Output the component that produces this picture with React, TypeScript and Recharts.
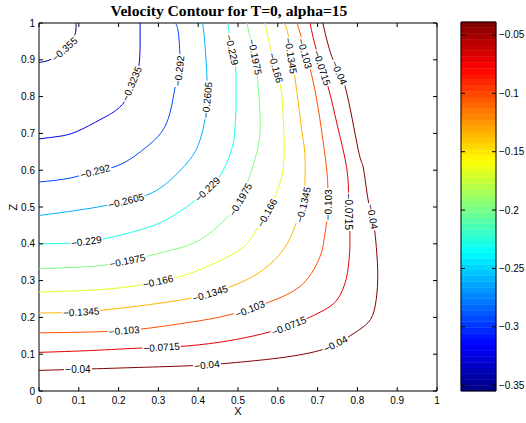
import React from 'react';
import { ComposedChart, Line, Scatter, XAxis, YAxis, ReferenceArea } from 'recharts';

// contour levels, lowest first
const levels = [-0.355, -0.3235, -0.292, -0.2605, -0.229, -0.1975, -0.166, -0.1345, -0.103, -0.0715, -0.04];
const colorMin = -0.355;
const colorMax = -0.0389;

const axisTicks = [0, 0.1, 0.2, 0.3, 0.4, 0.5, 0.6, 0.7, 0.8, 0.9, 1];
const barTicks = [-0.35, -0.3, -0.25, -0.2, -0.15, -0.1, -0.05];

// contour paths, traced from the top edge down to the left edge
const c355 = [
  { x: 0.093, z: 1.0 }, { x: 0.092, z: 0.975 }, { x: 0.082, z: 0.952 }, { x: 0.063, z: 0.929 },
  { x: 0.042, z: 0.909 }, { x: 0.02, z: 0.897 }, { x: 0, z: 0.893 },
];
const c3235 = [
  { x: 0.254, z: 1.0 }, { x: 0.254, z: 0.941 }, { x: 0.252, z: 0.892 }, { x: 0.245, z: 0.858 },
  { x: 0.231, z: 0.817 }, { x: 0.209, z: 0.778 }, { x: 0.183, z: 0.755 }, { x: 0.153, z: 0.737 },
  { x: 0.095, z: 0.705 }, { x: 0.05, z: 0.692 }, { x: 0, z: 0.685 },
];
const c292 = [
  { x: 0.343, z: 1.0 }, { x: 0.35, z: 0.975 }, { x: 0.354, z: 0.914 }, { x: 0.352, z: 0.868 },
  { x: 0.342, z: 0.826 }, { x: 0.321, z: 0.729 }, { x: 0.271, z: 0.664 }, { x: 0.204, z: 0.615 },
  { x: 0.141, z: 0.597 }, { x: 0.08, z: 0.579 }, { x: 0, z: 0.568 },
];
const c2605 = [
  { x: 0.411, z: 1.0 }, { x: 0.417, z: 0.941 }, { x: 0.422, z: 0.851 }, { x: 0.422, z: 0.791 },
  { x: 0.417, z: 0.737 }, { x: 0.405, z: 0.683 }, { x: 0.379, z: 0.629 }, { x: 0.321, z: 0.565 },
  { x: 0.262, z: 0.529 }, { x: 0.178, z: 0.506 }, { x: 0.09, z: 0.49 }, { x: 0, z: 0.477 },
];
const c229 = [
  { x: 0.474, z: 1.0 }, { x: 0.478, z: 0.973 }, { x: 0.485, z: 0.927 }, { x: 0.494, z: 0.881 },
  { x: 0.495, z: 0.82 }, { x: 0.495, z: 0.764 }, { x: 0.492, z: 0.71 }, { x: 0.486, z: 0.664 },
  { x: 0.459, z: 0.592 }, { x: 0.423, z: 0.548 }, { x: 0.384, z: 0.511 }, { x: 0.321, z: 0.466 },
  { x: 0.254, z: 0.438 }, { x: 0.162, z: 0.413 }, { x: 0.08, z: 0.402 }, { x: 0, z: 0.4 },
];
const c1975 = [
  { x: 0.523, z: 1.0 }, { x: 0.53, z: 0.963 }, { x: 0.543, z: 0.908 }, { x: 0.549, z: 0.851 },
  { x: 0.555, z: 0.764 }, { x: 0.555, z: 0.701 }, { x: 0.549, z: 0.656 }, { x: 0.532, z: 0.593 },
  { x: 0.506, z: 0.52 }, { x: 0.467, z: 0.465 }, { x: 0.405, z: 0.411 }, { x: 0.337, z: 0.384 },
  { x: 0.271, z: 0.366 }, { x: 0.178, z: 0.344 }, { x: 0.09, z: 0.336 }, { x: 0, z: 0.332 },
];
const c166 = [
  { x: 0.568, z: 1.0 }, { x: 0.585, z: 0.918 }, { x: 0.606, z: 0.832 }, { x: 0.614, z: 0.737 },
  { x: 0.616, z: 0.646 }, { x: 0.61, z: 0.583 }, { x: 0.593, z: 0.529 }, { x: 0.573, z: 0.484 },
  { x: 0.547, z: 0.44 }, { x: 0.505, z: 0.384 }, { x: 0.413, z: 0.334 }, { x: 0.354, z: 0.311 },
  { x: 0.262, z: 0.289 }, { x: 0.145, z: 0.275 }, { x: 0, z: 0.269 },
];
const c1345 = [
  { x: 0.613, z: 1.0 }, { x: 0.626, z: 0.968 }, { x: 0.643, z: 0.851 }, { x: 0.652, z: 0.78 },
  { x: 0.661, z: 0.702 }, { x: 0.668, z: 0.645 }, { x: 0.668, z: 0.565 }, { x: 0.661, z: 0.506 },
  { x: 0.643, z: 0.447 }, { x: 0.614, z: 0.384 }, { x: 0.564, z: 0.33 }, { x: 0.505, z: 0.294 },
  { x: 0.43, z: 0.265 }, { x: 0.35, z: 0.246 }, { x: 0.25, z: 0.231 }, { x: 0.153, z: 0.219 },
  { x: 0.06, z: 0.213 }, { x: 0, z: 0.212 },
];
const c103 = [
  { x: 0.648, z: 1.0 }, { x: 0.656, z: 0.973 }, { x: 0.685, z: 0.859 }, { x: 0.706, z: 0.737 },
  { x: 0.722, z: 0.61 }, { x: 0.726, z: 0.545 }, { x: 0.725, z: 0.48 }, { x: 0.716, z: 0.41 },
  { x: 0.706, z: 0.365 }, { x: 0.664, z: 0.292 }, { x: 0.593, z: 0.248 }, { x: 0.53, z: 0.223 },
  { x: 0.45, z: 0.2 }, { x: 0.35, z: 0.182 }, { x: 0.254, z: 0.168 }, { x: 0.15, z: 0.161 },
  { x: 0, z: 0.158 },
];
const c0715 = [
  { x: 0.681, z: 1.0 }, { x: 0.698, z: 0.923 }, { x: 0.726, z: 0.828 }, { x: 0.75, z: 0.72 },
  { x: 0.773, z: 0.607 }, { x: 0.778, z: 0.52 }, { x: 0.781, z: 0.43 }, { x: 0.78, z: 0.37 },
  { x: 0.772, z: 0.305 }, { x: 0.749, z: 0.248 }, { x: 0.706, z: 0.214 }, { x: 0.628, z: 0.177 },
  { x: 0.54, z: 0.15 }, { x: 0.45, z: 0.132 }, { x: 0.354, z: 0.121 }, { x: 0.262, z: 0.117 },
  { x: 0.13, z: 0.11 }, { x: 0, z: 0.105 },
];
const c04 = [
  { x: 0.713, z: 1.0 }, { x: 0.739, z: 0.9 }, { x: 0.769, z: 0.828 }, { x: 0.802, z: 0.656 },
  { x: 0.815, z: 0.606 }, { x: 0.827, z: 0.519 }, { x: 0.838, z: 0.474 }, { x: 0.846, z: 0.41 },
  { x: 0.851, z: 0.33 }, { x: 0.849, z: 0.265 }, { x: 0.838, z: 0.205 }, { x: 0.812, z: 0.172 },
  { x: 0.773, z: 0.144 }, { x: 0.714, z: 0.113 }, { x: 0.605, z: 0.09 }, { x: 0.48, z: 0.076 },
  { x: 0.388, z: 0.069 }, { x: 0.25, z: 0.064 }, { x: 0.13, z: 0.06 }, { x: 0, z: 0.056 },
];

const contours = [c355, c3235, c292, c2605, c229, c1975, c166, c1345, c103, c0715, c04];

// inline contour labels: level index, position on the curve, text angle
const labelSpots = [
  { i: 0, x: 0.064, z: 0.929, angle: -42 },
  { i: 1, x: 0.233, z: 0.835, angle: -67 },
  { i: 2, x: 0.352, z: 0.87, angle: -84 },
  { i: 2, x: 0.141, z: 0.597, angle: -15 },
  { i: 3, x: 0.422, z: 0.791, angle: -85 },
  { i: 3, x: 0.219, z: 0.517, angle: -14 },
  { i: 4, x: 0.485, z: 0.927, angle: 78 },
  { i: 4, x: 0.423, z: 0.548, angle: -45 },
  { i: 4, x: 0.119, z: 0.407, angle: -7 },
  { i: 5, x: 0.543, z: 0.908, angle: 79 },
  { i: 5, x: 0.506, z: 0.52, angle: -60 },
  { i: 5, x: 0.222, z: 0.354, angle: -11 },
  { i: 6, x: 0.595, z: 0.878, angle: 75 },
  { i: 6, x: 0.573, z: 0.484, angle: -61 },
  { i: 6, x: 0.299, z: 0.298, angle: -13 },
  { i: 7, x: 0.633, z: 0.911, angle: 81 },
  { i: 7, x: 0.664, z: 0.506, angle: -77 },
  { i: 7, x: 0.43, z: 0.265, angle: -17 },
  { i: 7, x: 0.106, z: 0.215, angle: -3 },
  { i: 8, x: 0.668, z: 0.917, angle: 74 },
  { i: 8, x: 0.726, z: 0.506, angle: -89 },
  { i: 8, x: 0.53, z: 0.223, angle: -22 },
  { i: 8, x: 0.214, z: 0.164, angle: -5 },
  { i: 9, x: 0.711, z: 0.878, angle: 72 },
  { i: 9, x: 0.779, z: 0.487, angle: 90 },
  { i: 9, x: 0.628, z: 0.177, angle: -22 },
  { i: 9, x: 0.308, z: 0.119, angle: -4 },
  { i: 10, x: 0.754, z: 0.865, angle: 66 },
  { i: 10, x: 0.838, z: 0.474, angle: 80 },
  { i: 10, x: 0.745, z: 0.128, angle: -27 },
  { i: 10, x: 0.422, z: 0.071, angle: -6 },
  { i: 10, x: 0.098, z: 0.059, angle: 0 },
];

const W = 526;
const H = 423;
const PLOT = { left: 39, top: 23, right: 437, bottom: 391 };
const BAR = { left: 461, top: 22, right: 496, bottom: 391 };
const AXIS_H = 20;
const AXIS_W = 30;
const SANS = '"Liberation Sans", Arial, Helvetica, sans-serif';
const TICK = 4;

// jet colormap
const jet = (v: number) => {
  const t = (v - colorMin) / (colorMax - colorMin);
  const ch = (d: number) => Math.round(255 * Math.max(0, Math.min(1, 1.5 - Math.abs(4 * t - d))));
  return `rgb(${ch(3)},${ch(2)},${ch(1)})`;
};

const fmtNeg = (v: number) => (v < 0 ? '\u2212' + Math.abs(v) : String(v));

const bands = Array.from({ length: 64 }, (_, k) => {
  const step = (colorMax - colorMin) / 64;
  const lo = colorMin + k * step;
  return { y1: lo, y2: lo + step, color: jet(lo + step / 2) };
});

const XTick = (p: any) => (
  <g>
    <line x1={p.x} x2={p.x} y1={PLOT.bottom} y2={PLOT.bottom - TICK} stroke="#000" />
    <line x1={p.x} x2={p.x} y1={PLOT.top} y2={PLOT.top + TICK} stroke="#000" />
    <text x={p.x} y={PLOT.bottom + 13} textAnchor="middle" fontSize={10} fontFamily={SANS} fill="#000">
      {String(p.payload.value)}
    </text>
  </g>
);

const YTick = (p: any) => (
  <g>
    <line x1={PLOT.left} x2={PLOT.left + TICK} y1={p.y} y2={p.y} stroke="#000" />
    <line x1={PLOT.right} x2={PLOT.right - TICK} y1={p.y} y2={p.y} stroke="#000" />
    <text x={PLOT.left - 4} y={p.y + 3.5} textAnchor="end" fontSize={10} fontFamily={SANS} fill="#000">
      {String(p.payload.value)}
    </text>
  </g>
);

const BarTick = (p: any) => (
  <g>
    <line x1={BAR.left} x2={BAR.left + TICK} y1={p.y} y2={p.y} stroke="#000" />
    <line x1={BAR.right} x2={BAR.right - TICK} y1={p.y} y2={p.y} stroke="#000" />
    <text x={BAR.right + 3} y={p.y + 3.5} textAnchor="start" fontSize={10} fontFamily={SANS} fill="#000">
      {fmtNeg(p.payload.value)}
    </text>
  </g>
);

const ContourLabel = (p: any) => {
  const text = fmtNeg(levels[p.payload.i]);
  const w = text.length * 5.2 + 2;
  return (
    <g transform={`translate(${p.cx},${p.cy}) rotate(${p.payload.angle})`}>
      <rect x={-w / 2} y={-5} width={w} height={10} fill="#fff" />
      <text x={0} y={3.6} textAnchor="middle" fontSize={10} fontFamily={SANS} fill="#000">
        {text}
      </text>
    </g>
  );
};

const layer: React.CSSProperties = { position: 'absolute', left: 0, top: 0 };

// one dummy row so the colorbar chart has data to lay out its axes
const barRows = [{ x: 0.5, v: colorMin }];

export default function App() {
  return (
    <div style={{ position: 'absolute', left: 0, top: 0, width: W, height: H, background: '#fff' }}>
      <div style={layer}>
        <ComposedChart
          width={W}
          height={H}
          margin={{
            top: PLOT.top,
            left: PLOT.left - AXIS_W,
            right: W - PLOT.right,
            bottom: H - PLOT.bottom - AXIS_H,
          }}
        >
          <XAxis
            dataKey="x"
            type="number"
            domain={[0, 1]}
            ticks={axisTicks}
            height={AXIS_H}
            tickLine={false}
            axisLine={false}
            tick={XTick}
            interval={0}
            allowDataOverflow
          />
          <YAxis
            dataKey="z"
            type="number"
            domain={[0, 1]}
            ticks={axisTicks}
            width={AXIS_W}
            tickLine={false}
            axisLine={false}
            tick={YTick}
            interval={0}
            allowDataOverflow
          />
          {contours.map((pts, k) => (
            <Line
              key={k}
              data={pts}
              dataKey="z"
              type="natural"
              stroke={jet(levels[k])}
              strokeWidth={1}
              dot={false}
              activeDot={false}
              isAnimationActive={false}
            />
          ))}
          <Scatter data={labelSpots} shape={ContourLabel} isAnimationActive={false} />
          <ReferenceArea x1={0} x2={1} y1={0} y2={1} fill="none" stroke="#000" strokeWidth={1} ifOverflow="visible" />
        </ComposedChart>
      </div>

      <div style={layer}>
        <ComposedChart
          width={W}
          height={H}
          data={barRows}
          margin={{ top: BAR.top, left: BAR.left, right: W - BAR.right - AXIS_W, bottom: H - BAR.bottom - AXIS_H }}
        >
          <XAxis type="number" dataKey="x" domain={[0, 1]} height={AXIS_H} tick={false} tickLine={false} axisLine={false} />
          <YAxis
            type="number"
            dataKey="v"
            orientation="right"
            domain={[colorMin, colorMax]}
            ticks={barTicks}
            width={AXIS_W}
            tickLine={false}
            axisLine={false}
            tick={BarTick}
            interval={0}
            allowDataOverflow
          />
          {bands.map((b, k) => (
            <ReferenceArea
              key={k}
              x1={0}
              x2={1}
              y1={b.y1}
              y2={b.y2}
              fill={b.color}
              fillOpacity={1}
              stroke={b.color}
              strokeWidth={0.5}
            />
          ))}
          <ReferenceArea x1={0} x2={1} y1={colorMin} y2={colorMax} fill="none" stroke="#000" strokeWidth={1} />
        </ComposedChart>
      </div>

      <div
        style={{
          position: 'absolute',
          left: 229 - 150,
          width: 300,
          top: 2,
          textAlign: 'center',
          fontFamily: '"Liberation Serif", "Times New Roman", serif',
          fontWeight: 'bold',
          fontSize: 15.6,
          lineHeight: '18px',
          color: '#000',
        }}
      >
        Velocity Contour for T=0, alpha=15
      </div>
      <div
        style={{
          position: 'absolute',
          left: PLOT.left,
          width: PLOT.right - PLOT.left,
          top: 406,
          textAlign: 'center',
          fontFamily: SANS,
          fontSize: 11,
          lineHeight: '11px',
          color: '#000',
        }}
      >
        X
      </div>
      <div
        style={{
          position: 'absolute',
          left: 6,
          top: 200,
          width: 14,
          height: 14,
          transform: 'rotate(-90deg)',
          textAlign: 'center',
          fontFamily: SANS,
          fontSize: 11,
          lineHeight: '14px',
          color: '#000',
        }}
      >
        Z
      </div>
    </div>
  );
}
